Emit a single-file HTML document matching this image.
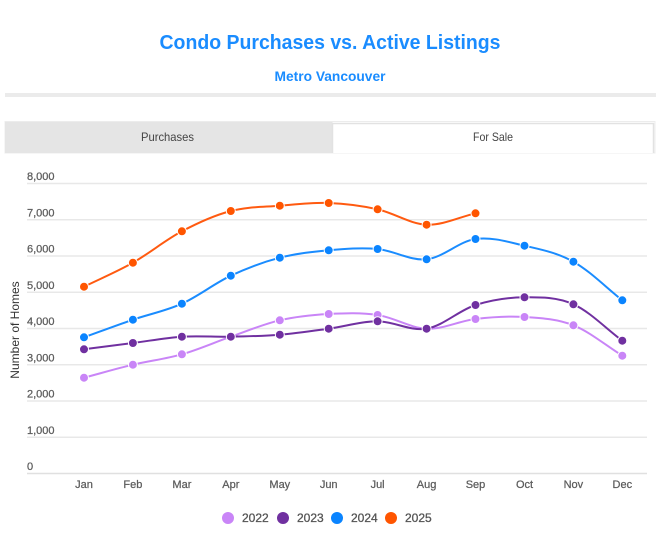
<!DOCTYPE html>
<html>
<head>
<meta charset="utf-8">
<style>
html,body{margin:0;padding:0;background:#fff;}
body{width:660px;height:533px;overflow:hidden;}
svg{display:block;font-family:"Liberation Sans",Arial,sans-serif;}
</style>
</head>
<body>
<svg width="660" height="533" viewBox="0 0 660 533" xmlns="http://www.w3.org/2000/svg">
  <rect x="0" y="0" width="660" height="533" fill="#fff"/>
  <!-- Title -->
  <text x="330" y="49" text-anchor="middle" font-size="20" font-weight="bold" fill="#1a8cff" textLength="341" lengthAdjust="spacingAndGlyphs">Condo Purchases vs. Active Listings</text>
  <text x="330" y="81" text-anchor="middle" font-size="14" font-weight="bold" fill="#1a8cff" textLength="111" lengthAdjust="spacingAndGlyphs">Metro Vancouver</text>
  <!-- separator -->
  <rect x="5" y="93" width="651" height="4" fill="#ebebeb"/>
  <!-- tabs -->
  <rect x="5" y="121.5" width="650" height="31.5" fill="#fff" stroke="#ececec" stroke-width="1"/>
  <rect x="5" y="122" width="327.5" height="31" fill="#e5e5e5"/>
  <path d="M332.5,153 L332.5,123.5 L653.5,123.5 L653.5,153" fill="#fff" stroke="#e2e2e2" stroke-width="1.5"/>
  <text x="167.5" y="141" text-anchor="middle" font-size="12" fill="#444" textLength="53" lengthAdjust="spacingAndGlyphs">Purchases</text>
  <text x="493" y="141" text-anchor="middle" font-size="12" fill="#444" textLength="40" lengthAdjust="spacingAndGlyphs">For Sale</text>

  <!-- gridlines -->
  <g stroke="#e8e8e8" stroke-width="1.5">
    <line x1="27" y1="183.5" x2="647" y2="183.5"/>
    <line x1="27" y1="219.75" x2="647" y2="219.75"/>
    <line x1="27" y1="256" x2="647" y2="256"/>
    <line x1="27" y1="292.25" x2="647" y2="292.25"/>
    <line x1="27" y1="328.5" x2="647" y2="328.5"/>
    <line x1="27" y1="364.75" x2="647" y2="364.75"/>
    <line x1="27" y1="401" x2="647" y2="401"/>
    <line x1="27" y1="437.25" x2="647" y2="437.25"/>
  </g>
  <line x1="27" y1="473.5" x2="647" y2="473.5" stroke="#e0e0e0" stroke-width="1.5"/>

  <!-- y labels -->
  <g font-size="11" fill="#5c5c5c" stroke="#5c5c5c" stroke-width="0.25">
    <text x="27" y="180">8,000</text>
    <text x="27" y="216.25">7,000</text>
    <text x="27" y="252.5">6,000</text>
    <text x="27" y="288.75">5,000</text>
    <text x="27" y="325">4,000</text>
    <text x="27" y="361.25">3,000</text>
    <text x="27" y="397.5">2,000</text>
    <text x="27" y="433.75">1,000</text>
    <text x="27" y="470">0</text>
  </g>
  <!-- y axis title -->
  <text transform="translate(19,330) rotate(-90)" text-anchor="middle" font-size="12" fill="#333">Number of Homes</text>

  <!-- x labels -->
  <g font-size="11" fill="#5c5c5c" stroke="#5c5c5c" stroke-width="0.25" text-anchor="middle">
    <text x="84" y="488">Jan</text>
    <text x="132.9" y="488">Feb</text>
    <text x="181.9" y="488">Mar</text>
    <text x="230.8" y="488">Apr</text>
    <text x="279.8" y="488">May</text>
    <text x="328.7" y="488">Jun</text>
    <text x="377.6" y="488">Jul</text>
    <text x="426.6" y="488">Aug</text>
    <text x="475.5" y="488">Sep</text>
    <text x="524.5" y="488">Oct</text>
    <text x="573.4" y="488">Nov</text>
    <text x="622.3" y="488">Dec</text>
  </g>

  <!-- 2022 -->
  <path fill="none" stroke="#c985f7" stroke-width="2" d="M84,377.7 C100.3,373.37 116.6,368.6 132.9,364.7 C149.2,360.8 165.6,358.97 181.9,354.3 C198.2,349.63 214.5,342.37 230.8,336.7 C247.1,331.03 263.5,324.08 279.8,320.3 C296.1,316.52 312.4,314.88 328.7,314 C345,313.12 361.3,312.55 377.6,315 C393.9,317.45 410.3,328.03 426.6,328.7 C442.9,329.37 459.2,320.95 475.5,319 C491.8,317.05 508.2,315.95 524.5,317 C540.8,318.05 557.1,318.85 573.4,325.3 C589.7,331.75 606,345.57 622.3,355.7"/>
  <g fill="#c985f7" stroke="#fff" stroke-width="1">
    <circle cx="84" cy="377.7" r="4.5"/><circle cx="132.9" cy="364.7" r="4.5"/><circle cx="181.9" cy="354.3" r="4.5"/><circle cx="230.8" cy="336.7" r="4.5"/><circle cx="279.8" cy="320.3" r="4.5"/><circle cx="328.7" cy="314" r="4.5"/><circle cx="377.6" cy="315" r="4.5"/><circle cx="426.6" cy="328.7" r="4.5"/><circle cx="475.5" cy="319" r="4.5"/><circle cx="524.5" cy="317" r="4.5"/><circle cx="573.4" cy="325.3" r="4.5"/><circle cx="622.3" cy="355.7" r="4.5"/>
  </g>

  <!-- 2023 -->
  <path fill="none" stroke="#7030a0" stroke-width="2" d="M84,349.3 C100.3,347.2 116.6,345.1 132.9,343 C149.2,340.9 165.6,337.75 181.9,336.7 C198.2,335.65 214.5,337.03 230.8,336.7 C247.1,336.37 263.5,336.03 279.8,334.7 C296.1,333.37 312.4,330.93 328.7,328.7 C345,326.47 361.3,321.3 377.6,321.3 C393.9,321.3 410.3,331.42 426.6,328.7 C442.9,325.98 459.2,310.23 475.5,305 C491.8,299.77 508.2,297.42 524.5,297.3 C540.8,297.18 557.1,297.07 573.4,304.3 C589.7,311.53 606,328.57 622.3,340.7"/>
  <g fill="#7030a0" stroke="#fff" stroke-width="1">
    <circle cx="84" cy="349.3" r="4.5"/><circle cx="132.9" cy="343" r="4.5"/><circle cx="181.9" cy="336.7" r="4.5"/><circle cx="230.8" cy="336.7" r="4.5"/><circle cx="279.8" cy="334.7" r="4.5"/><circle cx="328.7" cy="328.7" r="4.5"/><circle cx="377.6" cy="321.3" r="4.5"/><circle cx="426.6" cy="328.7" r="4.5"/><circle cx="475.5" cy="305" r="4.5"/><circle cx="524.5" cy="297.3" r="4.5"/><circle cx="573.4" cy="304.3" r="4.5"/><circle cx="622.3" cy="340.7" r="4.5"/>
  </g>

  <!-- 2024 -->
  <path fill="none" stroke="#1a8cff" stroke-width="2" d="M84,337.3 C100.3,331.43 116.6,325.3 132.9,319.7 C149.2,314.1 165.6,311.03 181.9,303.7 C198.2,296.37 214.5,283.37 230.8,275.7 C247.1,268.03 263.5,261.93 279.8,257.7 C296.1,253.47 312.4,251.75 328.7,250.3 C345,248.85 361.3,247.5 377.6,249 C393.9,250.5 410.3,260.97 426.6,259.3 C442.9,257.63 459.2,241.27 475.5,239 C491.8,236.73 508.2,241.92 524.5,245.7 C540.8,249.48 557.1,252.6 573.4,261.7 C589.7,270.8 606,287.43 622.3,300.3"/>
  <g fill="#0a84ff" stroke="#fff" stroke-width="1">
    <circle cx="84" cy="337.3" r="4.5"/><circle cx="132.9" cy="319.7" r="4.5"/><circle cx="181.9" cy="303.7" r="4.5"/><circle cx="230.8" cy="275.7" r="4.5"/><circle cx="279.8" cy="257.7" r="4.5"/><circle cx="328.7" cy="250.3" r="4.5"/><circle cx="377.6" cy="249" r="4.5"/><circle cx="426.6" cy="259.3" r="4.5"/><circle cx="475.5" cy="239" r="4.5"/><circle cx="524.5" cy="245.7" r="4.5"/><circle cx="573.4" cy="261.7" r="4.5"/><circle cx="622.3" cy="300.3" r="4.5"/>
  </g>

  <!-- 2025 -->
  <path fill="none" stroke="#ff5a10" stroke-width="2" d="M84,286.7 C100.3,278.7 116.6,271.93 132.9,262.7 C149.2,253.47 165.6,239.92 181.9,231.3 C198.2,222.68 214.5,215.27 230.8,211 C247.1,206.73 263.5,207.03 279.8,205.7 C296.1,204.37 312.4,202.4 328.7,203 C345,203.6 361.3,205.68 377.6,209.3 C393.9,212.92 410.3,224.03 426.6,224.7 C442.9,225.37 459.2,217.1 475.5,213.3"/>
  <g fill="#ff5500" stroke="#fff" stroke-width="1">
    <circle cx="84" cy="286.7" r="4.5"/><circle cx="132.9" cy="262.7" r="4.5"/><circle cx="181.9" cy="231.3" r="4.5"/><circle cx="230.8" cy="211" r="4.5"/><circle cx="279.8" cy="205.7" r="4.5"/><circle cx="328.7" cy="203" r="4.5"/><circle cx="377.6" cy="209.3" r="4.5"/><circle cx="426.6" cy="224.7" r="4.5"/><circle cx="475.5" cy="213.3" r="4.5"/>
  </g>

  <!-- legend -->
  <g font-size="12">
    <circle cx="228" cy="518" r="6" fill="#c985f7"/>
    <circle cx="283" cy="518" r="6" fill="#7030a0"/>
    <circle cx="337" cy="518" r="6" fill="#0a84ff"/>
    <circle cx="391" cy="518" r="6" fill="#ff5500"/>
  </g>
  <g font-size="12" fill="#555" stroke="#555" stroke-width="0.3">
    <text x="242" y="522">2022</text>
    <text x="297" y="522">2023</text>
    <text x="351" y="522">2024</text>
    <text x="405" y="522">2025</text>
  </g>
</svg>
</body>
</html>
